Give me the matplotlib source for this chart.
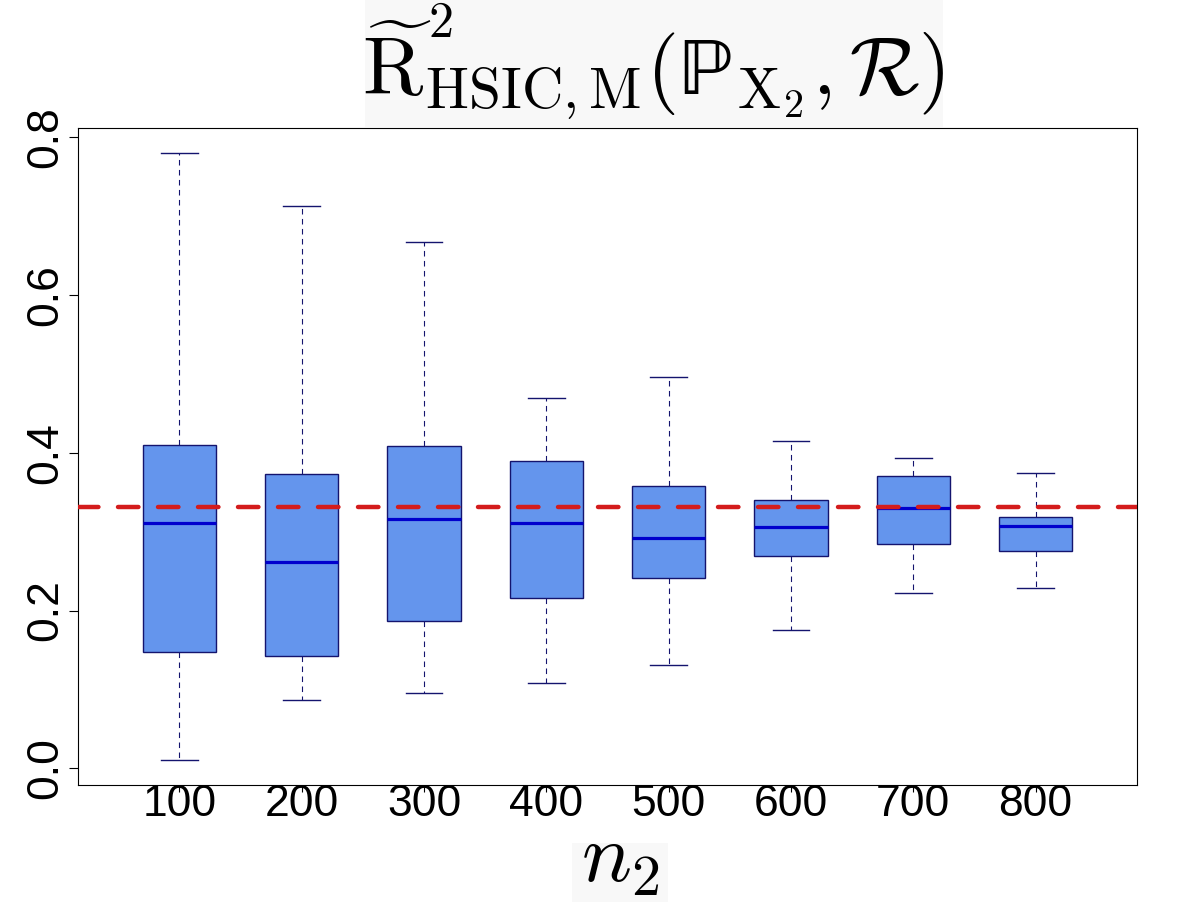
import matplotlib
matplotlib.use("Agg")
import matplotlib.pyplot as plt
from matplotlib.patches import Rectangle

plt.rcParams['font.family'] = ['Liberation Sans', 'DejaVu Sans']
plt.rcParams['mathtext.fontset'] = 'cm'

# box statistics
n2_labels = ["100", "200", "300", "400", "500", "600", "700", "800"]
whisker_low = [0.010, 0.086, 0.096, 0.108, 0.131, 0.175, 0.222, 0.228]
q1 = [0.147, 0.142, 0.187, 0.216, 0.241, 0.269, 0.284, 0.276]
median = [0.311, 0.262, 0.316, 0.311, 0.292, 0.306, 0.330, 0.307]
q3 = [0.410, 0.373, 0.408, 0.389, 0.358, 0.340, 0.370, 0.318]
whisker_high = [0.780, 0.713, 0.667, 0.470, 0.496, 0.415, 0.394, 0.374]
reference_value = 0.331
y_ticks = [0.0, 0.2, 0.4, 0.6, 0.8]

stats = []
for i, lab in enumerate(n2_labels):
    stats.append(dict(label=lab, whislo=whisker_low[i], q1=q1[i], med=median[i],
                      q3=q3[i], whishi=whisker_high[i], fliers=[]))

fig = plt.figure(figsize=(11.78, 9.17), dpi=100)
ax = fig.add_axes([0.0665, 0.144, 0.8985, 0.716])

edge = '#14146e'
ax.bxp(stats, widths=0.6, patch_artist=True, showfliers=False,
       boxprops=dict(facecolor='#6495ED', edgecolor=edge, linewidth=1.0),
       medianprops=dict(color='#0000CD', linewidth=2.3),
       whiskerprops=dict(color=edge, linewidth=0.8, linestyle=(0, (5, 4))),
       capprops=dict(color=edge, linewidth=1.0), capwidths=0.3)

# dashes of about 24 px with 16 px gaps, round ends
ax.axhline(reference_value, color='#D41C1C', linewidth=3.2,
           linestyle=(0, (4.6, 4.4)), dash_capstyle='round', zorder=5)

ax.set_xlim(0.174, 8.828)
ax.set_ylim(-0.0212, 0.8114)

ax.set_yticks(y_ticks)
ax.set_yticklabels([f"{v:.1f}" for v in y_ticks], rotation=90, va='center')
ax.tick_params(axis='y', labelsize=32, length=6.5, width=0.8, pad=2)
ax.tick_params(axis='x', labelsize=32, length=5, width=0.8, pad=-6)

for s in ax.spines.values():
    s.set_linewidth(0.8)

# faint grey panels behind the pasted-in latex title and axis label
fig.patches.append(Rectangle((0.310, 0.8615), 0.4907, 0.1385, transform=fig.transFigure,
                             facecolor='#f8f8f8', edgecolor='none', zorder=0))
fig.patches.append(Rectangle((0.4856, 0.0164), 0.0815, 0.0643, transform=fig.transFigure,
                             facecolor='#f8f8f8', edgecolor='none', zorder=0))

# title: the squared sits high above the tilde, so it is set on its own
fig.text(0.555, 0.8975,
         r'$\widetilde{\mathrm{R}}_{\mathrm{HSIC,M}}(\mathrm{ℙ}_{\mathrm{X}_{2}},\mathcal{R})$',
         fontsize=59, ha='center', va='baseline')
fig.text(0.3735, 0.9597, r'$2$', fontsize=36, ha='center', va='baseline')
fig.text(0.526, 0.038, r'$n_2$', fontsize=60, ha='center', va='baseline')

fig.savefig('out.png', dpi=100)
